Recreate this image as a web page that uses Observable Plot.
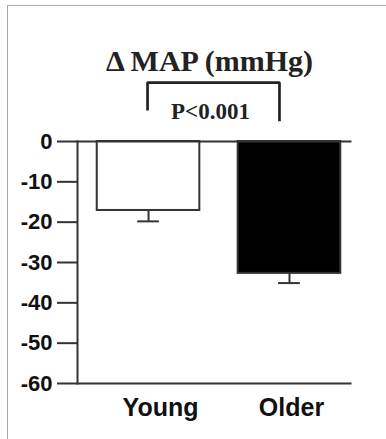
<!DOCTYPE html>
<html>
<head>
<meta charset="utf-8">
<script src="https://cdn.jsdelivr.net/npm/d3@7"></script>
<script src="https://cdn.jsdelivr.net/npm/@observablehq/plot@0.6"></script>
<style>
  html, body { margin: 0; padding: 0; background: #fff; }
  #wrap { position: relative; width: 386px; height: 439px; overflow: hidden; }
  #border { position: absolute; left: 7px; top: 5px; width: 420px; height: 480px;
            border-left: 1.5px solid #a8a8a8; border-top: 1.5px solid #a8a8a8; }
  #chart { position: absolute; left: 0; top: 0; }
</style>
</head>
<body>
<div id="wrap"><div id="border"></div><div id="chart"></div></div>
<script>
// Change in mean arterial pressure by age group (mean ± SEM)
const groups = ["Young", "Older"];
const meanChange = [-17.1, -32.7];
const sem = [2.7, 2.4];
const yTicks = [0, -10, -20, -30, -40, -50, -60];
const titleText = "Δ MAP (mmHg)";
const pText = "P<0.001";

const rows = groups.map((g, i) => ({
  group: g,
  pos: i + 1,
  mean: meanChange[i],
  low: meanChange[i] - sem[i],
  fill: i === 0 ? "white" : "black"
}));

const ink = "#333";
const halfBar = 0.364;
const halfCap = 0.077;
const sans = "'Liberation Sans', Arial, sans-serif";
const serif = "'Liberation Serif', 'Times New Roman', serif";

const chart = Plot.plot({
  width: 386,
  height: 439,
  marginLeft: 77,
  marginRight: 36,
  marginTop: 141,
  marginBottom: 56,
  x: {type: "linear", domain: [0.496, 2.433], axis: null},
  y: {domain: [-60, 0], axis: null},
  style: {background: "transparent", overflow: "visible", fontFamily: sans},
  marks: [
    // bars
    Plot.rectY(rows, {
      x1: d => d.pos - halfBar, x2: d => d.pos + halfBar,
      y1: 0, y2: "mean",
      fill: "fill", stroke: ink, strokeWidth: 2
    }),
    // error bars (one-sided, downward)
    Plot.ruleX(rows, {x: "pos", y1: "mean", y2: "low", stroke: ink, strokeWidth: 2}),
    Plot.ruleY(rows, {y: "low", x1: d => d.pos - halfCap, x2: d => d.pos + halfCap, stroke: ink, strokeWidth: 2}),
    // axis lines
    Plot.frame({anchor: "left", stroke: ink, strokeWidth: 2}),
    Plot.frame({anchor: "top", stroke: ink, strokeWidth: 2}),
    Plot.frame({anchor: "bottom", stroke: ink, strokeWidth: 2}),
    // y axis
    Plot.axisY(yTicks, {
      tickSize: 20, tickPadding: 5, tickFormat: d => String(d),
      stroke: ink, strokeWidth: 2, fill: "#111",
      fontSize: 22, fontWeight: "bold", fontFamily: sans
    }),
    // category labels
    Plot.axisX([rows[0].pos], {
      tickSize: 0, tickPadding: 15, tickFormat: () => groups[0], dx: 12,
      fill: "#111", fontSize: 25, fontWeight: "bold", fontFamily: sans
    }),
    Plot.axisX([rows[1].pos], {
      tickSize: 0, tickPadding: 15, tickFormat: () => groups[1], dx: 2,
      fill: "#111", fontSize: 25, fontWeight: "bold", fontFamily: sans
    }),
    // significance bracket between the groups
    Plot.line([
      {x: rows[0].pos - 0.007, y: 7.7},
      {x: rows[0].pos - 0.007, y: 14.6},
      {x: rows[1].pos - 0.071, y: 14.6},
      {x: rows[1].pos - 0.071, y: 5.0}
    ], {x: "x", y: "y", stroke: "#222", strokeWidth: 2.7, strokeLinejoin: "miter", strokeLinecap: "butt"}),
    Plot.text([pText], {
      text: d => d, frameAnchor: "top", dx: -3.5, dy: -23, lineAnchor: "bottom",
      fontSize: 23, fontWeight: "bold", fontFamily: serif, fill: "#222"
    }),
    // title
    Plot.text([titleText], {
      text: d => d, frameAnchor: "top", dx: -4.5, dy: -71, lineAnchor: "bottom",
      fontSize: 30, fontWeight: "bold", fontFamily: serif, fill: "#222"
    })
  ]
});

document.getElementById("chart").appendChild(chart);
</script>
</body>
</html>
